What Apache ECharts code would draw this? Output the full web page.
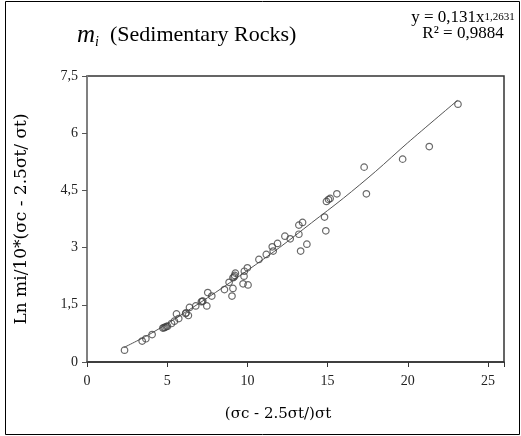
<!DOCTYPE html>
<html>
<head>
<meta charset="utf-8">
<script src="https://cdn.jsdelivr.net/npm/echarts@6/dist/echarts.min.js"></script>
<style>
html,body{margin:0;padding:0;background:#fff;}
#chart{width:521px;height:436px;}
</style>
</head>
<body>
<div id="chart"></div>
<script>
// Data
var xValues = [2.34,3.44,3.67,4.06,4.73,4.80,4.87,4.95,5.02,5.27,5.45,5.58,5.72,6.15,6.18,6.32,6.39,6.78,7.13,7.18,7.22,7.47,7.53,7.78,8.57,8.86,9.04,9.10,9.10,9.17,9.21,9.25,9.73,9.79,9.81,10.00,10.04,10.72,11.18,11.55,11.61,11.88,12.34,12.67,13.21,13.21,13.32,13.44,13.71,14.81,14.89,14.93,15.06,15.16,15.58,17.28,17.42,19.68,21.34,23.13];
var yValues = [0.31,0.55,0.61,0.72,0.89,0.90,0.91,0.93,0.94,1.01,1.07,1.26,1.14,1.27,1.29,1.22,1.43,1.47,1.58,1.59,1.60,1.47,1.82,1.73,1.90,2.09,1.73,1.93,2.21,2.23,2.27,2.33,2.05,2.25,2.38,2.47,2.02,2.69,2.82,3.02,2.91,3.11,3.30,3.23,3.35,3.59,2.91,3.66,3.09,3.80,3.44,4.21,4.26,4.29,4.41,5.11,4.41,5.32,5.65,6.76];
// Trend line as it is drawn in the picture
var trendX = [2.3, 4, 6, 8, 10, 12, 14, 16, 18, 20, 23.1];
var trendY = [0.38, 0.75, 1.27, 1.82, 2.40, 3.00, 3.65, 4.30, 5.00, 5.75, 6.86];
var xTicks = [0, 5, 10, 15, 20, 25];
var yTicks = ['0', '1,5', '3', '4,5', '6', '7,5'];
var equationLine1 = 'y = 0,131x';
var equationExp = '1,2631';
var equationLine2 = 'R² = 0,9884';

var scatterData = xValues.map(function (x, i) { return [x, yValues[i]]; });
var trendData = trendX.map(function (x, i) { return [x, trendY[i]]; });
var serif = '"Liberation Serif", "DejaVu Serif", serif';
var wideSerif = '"DejaVu Serif", "Liberation Serif", serif';

var chart = echarts.init(document.getElementById('chart'), null, {renderer: 'canvas'});
chart.setOption({
  animation: false,
  backgroundColor: '#fff',
  title: {
    text: '{m|m}{i|i}{t|(Sedimentary Rocks)}',
    left: 72,
    top: 16,
    textStyle: {
      fontWeight: 'normal',
      rich: {
        m: {fontFamily: serif, fontSize: 25, fontStyle: 'italic', fontWeight: 'normal', color: '#000', lineHeight: 28, verticalAlign: 'middle'},
        i: {fontFamily: serif, fontSize: 14, fontStyle: 'italic', fontWeight: 'normal', color: '#000', lineHeight: 14, verticalAlign: 'bottom', padding: [0, 11, 0, 0]},
        t: {fontFamily: serif, fontSize: 22, fontWeight: 'normal', color: '#000', lineHeight: 28, verticalAlign: 'middle'}
      }
    }
  },
  graphic: [
    {type: 'rect', shape: {x: 5.5, y: 1.5, width: 514, height: 433}, style: {fill: 'none', stroke: '#000', lineWidth: 1}, silent: true, z: 100},
    {type: 'text', x: 463, y: 11.5, style: {
      text: '{a|' + equationLine1 + '}{s|' + equationExp + '}\n{b|' + equationLine2 + '}',
      align: 'center', verticalAlign: 'top',
      rich: {
        a: {fontFamily: serif, fontSize: 17, fill: '#000', lineHeight: 15, verticalAlign: 'bottom'},
        s: {fontFamily: serif, fontSize: 11, fill: '#000', lineHeight: 15, verticalAlign: 'top'},
        b: {fontFamily: serif, fontSize: 17, fill: '#000', lineHeight: 15}
      }
    }},
    {type: 'text', x: 278, y: 414, style: {text: '(σc - 2.5σt/)σt', align: 'center', verticalAlign: 'middle', font: '15px ' + wideSerif, fill: '#000'}}
  ],
  grid: {left: 87, right: 17, top: 76, bottom: 74, show: true, borderColor: '#333', borderWidth: 1.5, backgroundColor: '#fff'},
  xAxis: {
    type: 'value', min: 0, max: 26, interval: 5,
    axisLine: {show: true, lineStyle: {color: '#333', width: 1.5}},
    axisTick: {show: true, length: 5, inside: false, lineStyle: {color: '#333'}},
    splitLine: {show: false},
    axisLabel: {
      fontFamily: serif, fontSize: 14, color: '#222', margin: 12,
      formatter: function (v) { return xTicks.indexOf(v) >= 0 ? String(v) : ''; }
    }
  },
  yAxis: {
    type: 'value', min: 0, max: 7.5, interval: 1.5,
    name: 'Ln mi/10*(σc - 2.5σt/ σt)',
    nameLocation: 'middle', nameGap: 57, nameRotate: 90,
    nameTextStyle: {fontFamily: wideSerif, fontSize: 17, color: '#000'},
    axisLine: {show: true, lineStyle: {color: '#808080', width: 2}},
    axisTick: {show: true, length: 5, inside: false, lineStyle: {color: '#555'}},
    splitLine: {show: false},
    axisLabel: {
      fontFamily: serif, fontSize: 14, color: '#222', margin: 9,
      formatter: function (v) { var idx = Math.round(v / 1.5); return yTicks[idx] !== undefined ? yTicks[idx] : ''; }
    }
  },
  series: [
    {
      type: 'line', data: trendData, smooth: 0.3, showSymbol: false, symbol: 'none',
      lineStyle: {color: '#555', width: 1}, z: 2, silent: true
    },
    {
      type: 'scatter', data: scatterData, symbol: 'circle', symbolSize: 6.5,
      itemStyle: {color: 'rgba(255,255,255,0)', borderColor: '#444', borderWidth: 1.2}, z: 3
    }
  ]
});
</script>
</body>
</html>
